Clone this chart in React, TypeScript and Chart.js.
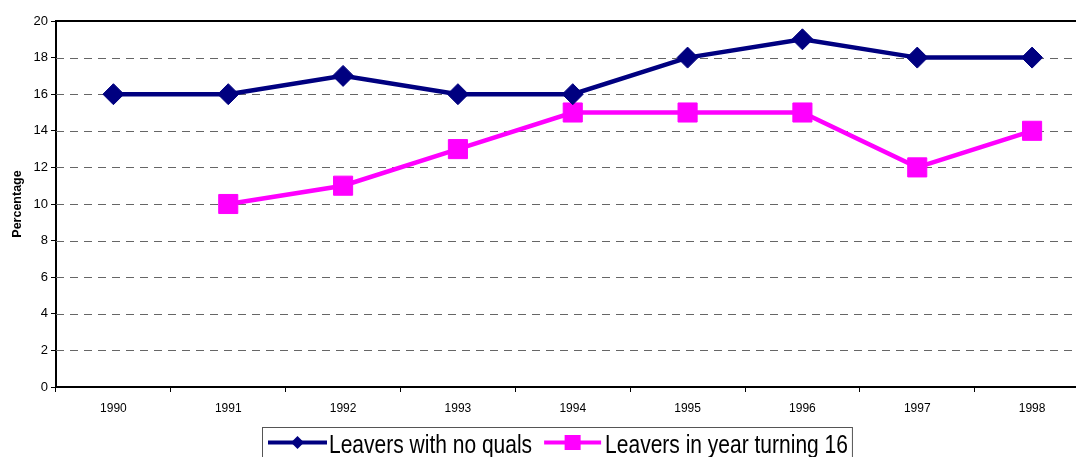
import React, { useEffect, useRef } from "react";
import { Chart, registerables } from "chart.js";

Chart.register(...registerables);

const years = ["1990", "1991", "1992", "1993", "1994", "1995", "1996", "1997", "1998"];
const noQuals = [16, 16, 17, 16, 16, 18, 19, 18, 18];
const turning16 = [null, 10, 11, 13, 15, 15, 15, 12, 14];
const seriesNames = ["Leavers with no quals", "Leavers in year turning 16"];
const navy = "#000080";
const magenta = "#FF00FF";
const FONT = "'Liberation Sans', Arial, sans-serif";

const gridPlugin = {
  id: "dashGrid",
  beforeDatasetsDraw(chart: any) {
    const { ctx, chartArea } = chart;
    const y = chart.scales.y;
    ctx.save();
    y.ticks.forEach((t: any) => {
      const py = Math.round(y.getPixelForValue(t.value));
      if (t.value === 0) return;
      ctx.beginPath();
      if (t.value === 20) {
        ctx.setLineDash([]);
        ctx.strokeStyle = "#000";
        ctx.lineWidth = 2;
        ctx.moveTo(chartArea.left, py);
        ctx.lineTo(chartArea.right, py);
      } else {
        ctx.setLineDash([8, 6]);
        ctx.strokeStyle = "#666";
        ctx.lineWidth = 1;
        ctx.moveTo(chartArea.left, py + 0.5);
        ctx.lineTo(chartArea.right, py + 0.5);
      }
      ctx.stroke();
    });
    ctx.restore();
  },
};

const legendPlugin = {
  id: "boxLegend",
  afterDraw(chart: any) {
    const { ctx } = chart;
    ctx.save();
    ctx.font = `21px ${FONT}`;
    const left = 262;
    const top = 427;
    const lineY = 442.5;
    const baseline = 453;
    let x = left + 6;
    const drawText = (s: string, tx: number) => {
      ctx.save();
      ctx.translate(tx, baseline);
      ctx.scale(1, 1.2);
      ctx.fillStyle = "#000";
      ctx.textBaseline = "alphabetic";
      ctx.fillText(s, 0, 0);
      ctx.restore();
      return ctx.measureText(s).width;
    };
    ctx.strokeStyle = navy;
    ctx.lineWidth = 4;
    ctx.beginPath();
    ctx.moveTo(x, lineY);
    ctx.lineTo(x + 59, lineY);
    ctx.stroke();
    ctx.fillStyle = navy;
    const cx1 = x + 29.5;
    ctx.beginPath();
    ctx.moveTo(cx1 - 6.5, lineY);
    ctx.lineTo(cx1, lineY - 6.5);
    ctx.lineTo(cx1 + 6.5, lineY);
    ctx.lineTo(cx1, lineY + 6.5);
    ctx.closePath();
    ctx.fill();
    x += 61;
    const w1 = drawText(seriesNames[0], x);
    x += w1 + 12;
    ctx.strokeStyle = magenta;
    ctx.lineWidth = 4;
    ctx.beginPath();
    ctx.moveTo(x, lineY);
    ctx.lineTo(x + 57, lineY);
    ctx.stroke();
    ctx.fillStyle = magenta;
    const cx2 = x + 28.5;
    ctx.fillRect(cx2 - 8, lineY - 7.5, 16, 15);
    x += 61;
    const w2 = drawText(seriesNames[1], x);
    x += w2 + 4;
    ctx.strokeStyle = "#555";
    ctx.lineWidth = 1;
    ctx.strokeRect(left + 0.5, top + 0.5, x - left, 60);
    ctx.restore();
  },
};

export default function App() {
  const ref = useRef<HTMLCanvasElement | null>(null);
  useEffect(() => {
    document.body.style.margin = "0";
    const canvas = ref.current;
    if (!canvas) return;
    const chart = new Chart(canvas, {
      type: "line",
      data: {
        labels: years,
        datasets: [
          {
            label: seriesNames[0],
            data: noQuals,
            borderColor: navy,
            backgroundColor: navy,
            borderWidth: 4.5,
            pointStyle: "rectRot",
            pointRadius: 10.5,
            pointBorderWidth: 1,
            pointBackgroundColor: navy,
            pointBorderColor: navy,
            tension: 0,
          },
          {
            label: seriesNames[1],
            data: turning16 as any,
            borderColor: magenta,
            backgroundColor: magenta,
            borderWidth: 4.5,
            pointStyle: "rect",
            pointRadius: 13.5,
            pointBorderWidth: 1,
            pointBackgroundColor: magenta,
            pointBorderColor: magenta,
            tension: 0,
          },
        ],
      },
      options: {
        responsive: false,
        animation: false,
        layout: { padding: { top: 21, right: 11, bottom: 30, left: 0 } },
        plugins: { legend: { display: false }, tooltip: { enabled: false } },
        scales: {
          x: {
            type: "category",
            offset: true,
            grid: { display: true, drawOnChartArea: false, drawTicks: true, tickLength: 5, color: "#000", offset: true },
            border: { display: true, color: "#000", width: 2 },
            ticks: { color: "#000", font: { family: FONT, size: 12 }, padding: 9, maxRotation: 0, autoSkip: false },
            afterFit: (s: any) => { s.height = 40; },
          },
          y: {
            min: 0,
            max: 20,
            grid: { display: true, drawOnChartArea: false, drawTicks: true, tickLength: 5, color: "#000" },
            border: { display: true, color: "#000", width: 2 },
            ticks: { stepSize: 2, color: "#000", font: { family: FONT, size: 13 }, padding: 3 },
            title: { display: true, text: "Percentage", color: "#000", font: { family: FONT, size: 12.5, weight: "bold" }, padding: { top: 10, bottom: 0 } },
            afterFit: (s: any) => { s.width = 56; },
          },
        },
      },
      plugins: [gridPlugin, legendPlugin],
    });
    return () => chart.destroy();
  }, []);
  return (
    <div style={{ width: 1076, height: 457, overflow: "hidden", position: "relative", background: "#fff" }}>
      <canvas ref={ref} width={1104} height={457} style={{ display: "block" }} />
    </div>
  );
}
